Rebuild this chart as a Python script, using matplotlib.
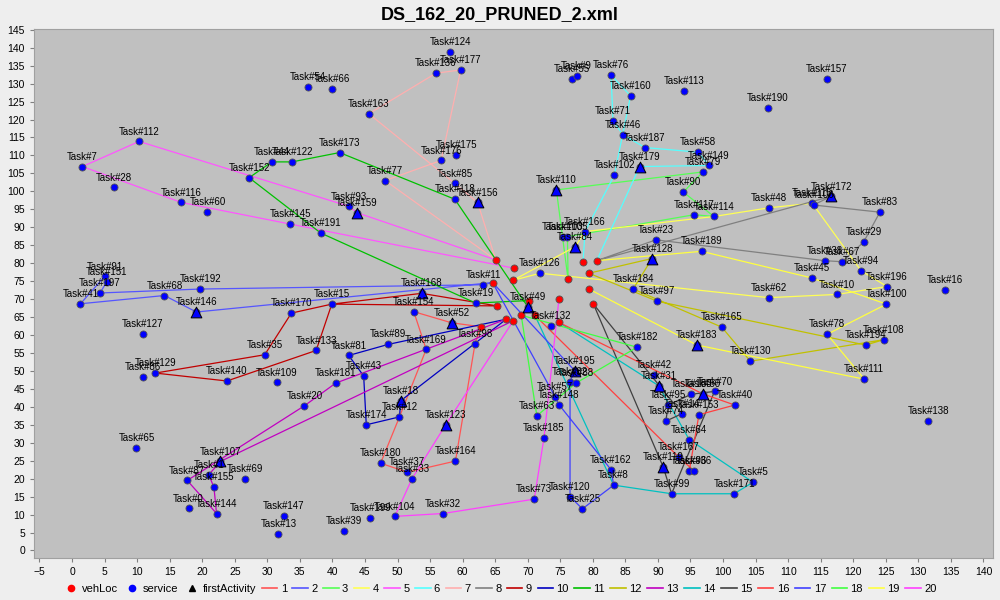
import matplotlib
matplotlib.use("Agg")
import matplotlib.pyplot as plt
from matplotlib.lines import Line2D

plt.rcParams['font.family'] = ['Liberation Sans', 'DejaVu Sans']

# service locations
task_names = [
    "Task#54", "Task#66", "Task#112", "Task#7", "Task#28", "Task#116", "Task#60", "Task#152",
    "Task#44", "Task#122", "Task#173", "Task#145", "Task#191", "Task#124", "Task#136", "Task#177",
    "Task#163", "Task#175", "Task#176", "Task#77", "Task#85", "Task#118", "Task#156", "Task#93",
    "Task#159", "Task#110", "Task#55", "Task#9", "Task#103", "Task#105", "Task#166", "Task#84",
    "Task#76", "Task#160", "Task#113", "Task#157", "Task#190", "Task#71", "Task#46", "Task#187",
    "Task#58", "Task#149", "Task#79", "Task#179", "Task#102", "Task#90", "Task#117", "Task#114",
    "Task#48", "Task#115", "Task#106", "Task#172", "Task#83", "Task#29", "Task#23", "Task#128",
    "Task#189", "Task#38", "Task#67", "Task#94", "Task#16", "Task#91", "Task#151", "Task#197",
    "Task#41", "Task#68", "Task#192", "Task#146", "Task#170", "Task#15", "Task#127", "Task#35",
    "Task#133", "Task#129", "Task#86", "Task#140", "Task#109", "Task#181", "Task#20", "Task#65",
    "Task#107", "Task#1", "Task#87", "Task#155", "Task#69", "Task#0", "Task#144", "Task#147",
    "Task#13", "Task#126", "Task#11", "Task#19", "Task#49", "Task#132", "Task#168", "Task#154",
    "Task#52", "Task#89", "Task#169", "Task#98", "Task#81", "Task#43", "Task#18", "Task#12",
    "Task#174", "Task#123", "Task#164", "Task#180", "Task#37", "Task#33", "Task#104", "Task#199",
    "Task#39", "Task#32", "Task#73", "Task#120", "Task#25", "Task#8", "Task#162", "Task#185",
    "Task#63", "Task#148", "Task#57", "Task#195", "Task#82", "Task#88", "Task#182", "Task#184",
    "Task#45", "Task#196", "Task#10", "Task#100", "Task#62", "Task#97", "Task#165", "Task#183",
    "Task#130", "Task#78", "Task#194", "Task#108", "Task#111", "Task#138", "Task#42", "Task#31",
    "Task#95", "Task#150", "Task#50", "Task#70", "Task#40", "Task#153", "Task#14", "Task#74",
    "Task#64", "Task#167", "Task#119", "Task#96", "Task#36", "Task#5", "Task#171", "Task#99",
]
task_x = [
    36.3, 39.9, 10.3, 1.6, 6.5, 16.8, 20.8, 27.2,
    30.7, 33.8, 41.1, 33.5, 38.2, 58.1, 55.9, 59.7,
    45.6, 59.0, 56.7, 48.1, 58.8, 58.8, 62.3, 42.6,
    43.7, 74.4, 76.8, 77.5, 75.4, 76.1, 78.8, 77.3,
    82.8, 85.8, 94.0, 115.9, 106.9, 83.1, 84.6, 88.0,
    96.2, 97.8, 96.9, 87.2, 83.3, 93.9, 95.6, 98.6,
    107.0, 113.7, 113.9, 116.6, 124.1, 121.6, 89.7, 89.1,
    96.7, 115.6, 118.3, 121.2, 134.1, 5.0, 5.3, 4.3,
    1.3, 14.2, 19.7, 19.1, 33.7, 39.9, 10.9, 29.6,
    37.5, 12.8, 10.9, 23.8, 31.5, 40.5, 35.7, 9.9,
    22.8, 21.0, 17.7, 21.8, 26.6, 17.9, 22.2, 32.5,
    31.7, 71.9, 63.2, 62.0, 70.0, 73.5, 53.7, 52.5,
    58.3, 48.6, 54.4, 61.9, 42.5, 44.8, 50.5, 50.3,
    45.2, 57.4, 58.9, 47.4, 51.5, 52.2, 49.6, 45.8,
    41.8, 57.0, 71.0, 76.5, 78.4, 83.2, 82.8, 72.5,
    71.4, 74.8, 74.2, 77.2, 76.5, 77.4, 86.8, 86.2,
    113.6, 125.2, 117.5, 125.1, 107.0, 89.9, 99.8, 96.0,
    104.2, 116.0, 121.9, 124.7, 121.7, 131.5, 89.4, 90.1,
    91.6, 95.1, 96.9, 98.7, 101.8, 96.3, 93.7, 91.2,
    94.8, 93.2, 90.8, 94.8, 95.6, 104.6, 101.7, 92.1,
]
task_y = [
    129.0, 128.5, 113.9, 106.9, 101.1, 96.9, 94.2, 103.8,
    108.2, 108.2, 110.8, 90.9, 88.4, 138.7, 132.9, 133.8,
    121.6, 110.2, 108.6, 103.0, 102.2, 97.8, 96.9, 95.8,
    94.1, 100.4, 131.3, 132.2, 87.4, 87.4, 88.8, 84.6,
    132.4, 126.6, 127.9, 131.3, 123.3, 119.7, 115.8, 112.2,
    110.9, 107.2, 105.4, 106.9, 104.5, 99.8, 93.5, 93.0,
    95.4, 96.7, 96.2, 98.6, 94.2, 85.9, 86.5, 81.3,
    83.3, 80.7, 80.4, 77.9, 72.6, 76.3, 74.7, 71.7,
    68.7, 71.0, 72.8, 66.4, 66.1, 68.6, 60.2, 54.5,
    55.7, 49.4, 48.3, 47.2, 46.8, 46.6, 40.3, 28.6,
    24.8, 21.1, 19.5, 17.6, 19.9, 11.7, 10.3, 9.7,
    4.6, 77.2, 74.0, 68.9, 67.9, 62.6, 71.6, 66.5,
    63.4, 57.4, 56.0, 57.5, 54.3, 48.6, 41.7, 37.2,
    35.0, 35.0, 24.9, 24.3, 21.8, 19.9, 9.5, 9.0,
    5.4, 10.3, 14.3, 15.0, 11.6, 18.2, 22.5, 31.4,
    37.5, 40.6, 42.8, 50.1, 47.0, 46.6, 56.6, 72.8,
    75.9, 73.5, 71.3, 68.6, 70.4, 69.4, 62.2, 57.2,
    52.7, 60.2, 57.2, 58.7, 47.7, 36.0, 48.8, 45.9,
    40.5, 43.5, 43.6, 44.3, 40.5, 37.8, 38.1, 36.0,
    30.9, 26.0, 23.3, 22.1, 22.1, 19.0, 15.8, 15.8,
]

# first activity of each route (triangles)
first_tasks = ["Task#156", "Task#159", "Task#110", "Task#84", "Task#179", "Task#172", "Task#128",
               "Task#146", "Task#107", "Task#49", "Task#168", "Task#52", "Task#18", "Task#123",
               "Task#195", "Task#183", "Task#31", "Task#50", "Task#119"]

# vehicle locations
depot_x = [65.1, 67.9, 64.6, 67.7, 65.3, 70.2, 66.7, 67.8, 69.0, 71.1,
           62.8, 74.8, 74.8, 78.5, 80.6, 76.2, 79.4, 79.4, 80.1]
depot_y = [80.9, 78.6, 74.6, 75.2, 68.1, 69.6, 64.4, 64.0, 65.5, 65.5,
           62.3, 70.1, 63.5, 80.4, 80.7, 75.5, 77.2, 72.8, 68.6]

route_1 = ['D11', 'Task#52', 'Task#154', 'Task#169', 'Task#12', 'Task#180', 'Task#37', 'Task#164', 'Task#98', 'D11']
route_2 = ['D3', 'Task#146', 'Task#68', 'Task#41', 'Task#91', 'Task#151', 'Task#197', 'Task#192', 'Task#11', 'D3']
route_3 = ['D16', 'Task#110', 'Task#79', 'Task#90', 'Task#114', 'Task#117', 'Task#105', 'D16']
route_4 = ['D4', 'Task#84', 'Task#166', 'Task#114', 'Task#48', 'Task#115', 'Task#94', 'Task#196', 'Task#10', 'Task#62', 'Task#126', 'D4']
route_5 = ['D1', 'Task#159', 'Task#93', 'Task#112', 'Task#7', 'Task#116', 'Task#145', 'D2']
route_6 = ['D15', 'Task#179', 'Task#149', 'Task#58', 'Task#187', 'Task#46', 'Task#71', 'Task#76', 'Task#160', 'Task#102', 'Task#166', 'D14']
route_7 = ['D1', 'Task#156', 'Task#85', 'Task#163', 'Task#136', 'Task#177', 'Task#176', 'Task#77', 'D1']
route_8 = ['D15', 'Task#172', 'Task#106', 'Task#83', 'Task#29', 'Task#67', 'Task#38', 'Task#23', 'D15']
route_9 = ['D5', 'Task#168', 'Task#15', 'Task#170', 'Task#35', 'Task#129', 'Task#140', 'Task#133', 'Task#15', 'D5']
route_10 = ['D7', 'Task#18', 'Task#12', 'Task#174', 'Task#43', 'Task#81', 'Task#89', 'D7']
route_11 = ['D6', 'Task#49', 'Task#118', 'Task#173', 'Task#122', 'Task#44', 'Task#152', 'Task#191', 'Task#19', 'D6']
route_12 = ['D17', 'Task#128', 'Task#184', 'Task#165', 'Task#130', 'Task#108', 'Task#194', 'Task#97', 'D17']
route_13 = ['D8', 'Task#107', 'Task#1', 'Task#155', 'Task#144', 'Task#87', 'Task#20', 'Task#181', 'D7']
route_14 = ['D13', 'Task#31', 'Task#64', 'Task#5', 'Task#171', 'Task#99', 'Task#8', 'D10']
route_15 = ['D19', 'Task#119', 'Task#99', 'Task#70', 'Task#150', 'Task#95', 'Task#74', 'Task#14', 'D19']
route_16 = ['D13', 'Task#50', 'Task#40', 'Task#153', 'Task#96', 'Task#36', 'Task#167', 'D10']
route_17 = ['D3', 'Task#195', 'Task#82', 'Task#120', 'Task#25', 'Task#8', 'Task#162', 'Task#148', 'Task#57', 'D3']
route_18 = ['D9', 'Task#182', 'Task#88', 'Task#63', 'D9']
route_19 = ['D18', 'Task#183', 'Task#111', 'Task#78', 'Task#100', 'Task#45', 'Task#189', 'D15']
route_20 = ['D8', 'Task#123', 'Task#33', 'Task#104', 'Task#32', 'Task#73', 'Task#185', 'D12']

routes = [route_1, route_2, route_3, route_4, route_5, route_6, route_7, route_8, route_9, route_10,
          route_11, route_12, route_13, route_14, route_15, route_16, route_17, route_18, route_19, route_20]

route_colors = ['#FF5555', '#5555FF', '#55FF55', '#FFFF55', '#FF55FF', '#55FFFF', '#FFAFAF', '#808080',
                '#C00000', '#0000C0', '#00C000', '#C0C000', '#C000C0', '#00C0C0', '#404040',
                '#FF4040', '#4040FF', '#40FF40', '#FFFF40', '#FF40FF']

#%%
pos = {n: (x, y) for n, x, y in zip(task_names, task_x, task_y)}
for i, (x, y) in enumerate(zip(depot_x, depot_y)):
    pos['D%d' % (i + 1)] = (x, y)

fig = plt.figure(figsize=(10, 6), dpi=100, facecolor='#EEEEEE')
ax = fig.add_axes([0.034, 0.07, 0.959, 0.882])
ax.set_facecolor('#C0C0C0')

for r, c in zip(routes, route_colors):
    xs = [pos[s][0] for s in r]
    ys = [pos[s][1] for s in r]
    ax.plot(xs, ys, color=c, lw=0.9, zorder=2)

ax.scatter(task_x, task_y, s=26, c='#0000FF', edgecolors='#555555', linewidths=0.6, zorder=3)
ax.scatter(depot_x, depot_y, s=26, c='#FF0000', edgecolors='#555555', linewidths=0.6, zorder=3)
ax.scatter([pos[t][0] for t in first_tasks], [pos[t][1] for t in first_tasks],
           s=60, marker='^', c='#0000FF', edgecolors='black', linewidths=0.7, zorder=4)

for n, x, y in zip(task_names, task_x, task_y):
    ax.annotate(n, (x, y), xytext=(0, 3.5), textcoords='offset points',
                ha='center', va='bottom', fontsize=7, color='black', zorder=5)

ax.set_xlim(-5.84, 141.47)
ax.set_ylim(-2.09, 145.26)
ax.set_xticks(range(-5, 141, 5))
ax.set_yticks(range(0, 146, 5))
ax.tick_params(labelsize=7.5, length=3, color='#808080', direction='out')
for sp in ax.spines.values():
    sp.set_color('#A0A0A0')

fig.text(0.5, 1 - 15 / 600, "DS_162_20_PRUNED_2.xml", ha='center', va='center',
         fontsize=13, fontweight='bold')

handles = [Line2D([], [], ls='', marker='o', color='#FF0000', ms=4.5, label='vehLoc'),
           Line2D([], [], ls='', marker='o', color='#0000FF', ms=4.5, label='service'),
           Line2D([], [], ls='', marker='^', color='black', ms=5, label='firstActivity')]
for i, c in enumerate(route_colors):
    handles.append(Line2D([], [], color=c, lw=1.2, label=str(i + 1)))
fig.legend(handles=handles, loc='center', bbox_to_anchor=(0.5, 1 - 589 / 600), ncol=len(handles),
           frameon=False, fontsize=8, handlelength=1.4, handletextpad=0.3, columnspacing=0.5,
           borderpad=0.1)

fig.savefig('out.png', dpi=100, facecolor=fig.get_facecolor())
